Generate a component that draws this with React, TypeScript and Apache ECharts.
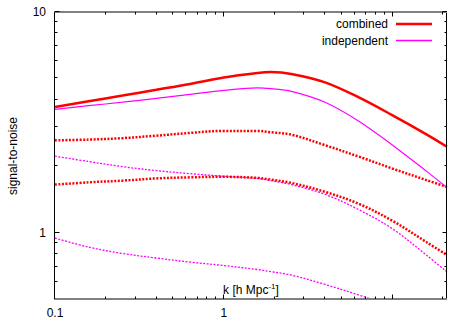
import React, { useEffect, useRef } from 'react';
import * as echarts from 'echarts';

const kValues = [0.1, 0.158, 0.251, 0.398, 0.631, 1, 1.585, 1.9, 2.512, 3.981, 6.31, 10, 15.85, 21];
const combinedSolid = [3.71, 3.94, 4.18, 4.44, 4.72, 5.05, 5.29, 5.34, 5.24, 4.8, 4.1, 3.4, 2.79, 2.45];
const independentSolid = [3.62, 3.76, 3.9, 4.06, 4.23, 4.41, 4.53, 4.49, 4.37, 3.9, 3.2, 2.49, 1.9, 1.6];
const combinedDottedUpper = [2.62, 2.64, 2.68, 2.75, 2.83, 2.89, 2.89, 2.85, 2.78, 2.49, 2.21, 1.95, 1.73, 1.61];
const combinedDottedLower = [1.65, 1.69, 1.72, 1.76, 1.78, 1.79, 1.77, 1.74, 1.68, 1.53, 1.35, 1.13, 0.906, 0.791];
const independentDottedUpper = [2.22, 2.1, 1.99, 1.91, 1.85, 1.8, 1.76, 1.72, 1.65, 1.49, 1.27, 1.04, 0.791, 0.663];
const independentDottedLower = [0.944, 0.86, 0.804, 0.767, 0.735, 0.709, 0.68, 0.665, 0.642, 0.582, 0.521, 0.46, 0.398, 0.362];

const xLabelValues = [0.1, 1, 10];
const yLabelValues = [1, 10];
const xMajorTicks = [0.1, 1, 10];
const xMinorTicks = [0.2, 0.3, 0.4, 0.5, 0.6, 0.7, 0.8, 0.9, 2, 3, 4, 5, 6, 7, 8, 9, 20];
const yMajorTicks = [1, 10];
const yMinorTicks = [0.6, 0.7, 0.8, 0.9, 2, 3, 4, 5, 6, 7, 8, 9];

const X_MIN = 0.1;
const X_MAX = 21;
const Y_MIN = 0.5;
const Y_MAX = 10;

const FONT = '"Liberation Sans", Arial, Helvetica, sans-serif';

function fmt(v: number): string {
  return String(Number(v.toPrecision(3)));
}

export default function App() {
  const ref = useRef<HTMLDivElement>(null);
  useEffect(() => {
    const chart = echarts.init(ref.current!, null, { renderer: 'svg' });
    const mk = (name: string, data: number[], color: string, width: number, type: any, z: number) => ({
      name,
      type: 'line',
      data: kValues.map((k, i) => [k, data[i]]),
      showSymbol: false,
      symbol: 'none',
      smooth: 0.35,
      clip: true,
      z,
      lineStyle: { color, width, type, cap: 'butt' },
      itemStyle: { color },
    });
    chart.setOption({
      animation: false,
      backgroundColor: '#ffffff',
      grid: { left: 55, right: 20, top: 12, bottom: 28, containLabel: false },
      xAxis: {
        type: 'log',
        logBase: 10,
        min: X_MIN,
        max: X_MAX,
        axisLine: { show: false },
        axisTick: { show: false },
        splitLine: { show: false },
        axisLabel: {
          customValues: xLabelValues,
          formatter: (v: number) => fmt(v),
          color: '#000',
          fontSize: 12,
          fontFamily: FONT,
          margin: 8,
          showMinLabel: true,
          showMaxLabel: false,
        },
      },
      yAxis: {
        type: 'log',
        logBase: 10,
        min: Y_MIN,
        max: Y_MAX,
        axisLine: { show: false },
        axisTick: { show: false },
        splitLine: { show: false },
        axisLabel: {
          customValues: yLabelValues,
          formatter: (v: number) => fmt(v),
          color: '#000',
          fontSize: 12,
          fontFamily: FONT,
          margin: 9,
        },
      },
      series: [
        mk('combined-a', combinedDottedUpper, '#ff0000', 2.5, [2, 1.5], 3),
        mk('combined-b', combinedDottedLower, '#ff0000', 2.5, [2, 1.5], 3),
        mk('independent-a', independentDottedUpper, '#ff00ff', 1.3, [2, 1.5], 2),
        mk('independent-b', independentDottedLower, '#ff00ff', 1.3, [2, 1.5], 2),
        mk('independent', independentSolid, '#ff00ff', 1.2, 'solid', 4),
        mk('combined', combinedSolid, '#ff0000', 2.5, 'solid', 5),
      ],
    });

    const xp = (v: number) => chart.convertToPixel({ xAxisIndex: 0 } as any, v) as number;
    const yp = (v: number) => chart.convertToPixel({ yAxisIndex: 0 } as any, v) as number;
    const left = xp(X_MIN);
    const right = xp(X_MAX);
    const top = yp(Y_MAX);
    const bottom = yp(Y_MIN);

    const g: any[] = [];
    const ln = (x1: number, y1: number, x2: number, y2: number, stroke: string, w: number) => ({
      type: 'line',
      silent: true,
      z: 10,
      shape: { x1, y1, x2, y2 },
      style: { stroke, lineWidth: w },
    });
    // frame
    g.push(ln(left - 0.5, top, left - 0.5, bottom, '#000', 1));
    g.push(ln(right - 0.5, top, right - 0.5, bottom, '#000', 1));
    g.push(ln(left - 1, top, right, top, '#808080', 2));
    g.push(ln(left - 1, bottom, right, bottom, '#808080', 2));
    // ticks
    const addX = (vals: number[], len: number) => {
      vals.forEach((v) => {
        const x = Math.round(xp(v)) - 0.5;
        g.push(ln(x, bottom, x, bottom - len, '#000', 1));
        g.push(ln(x, top, x, top + len, '#000', 1));
      });
    };
    const addY = (vals: number[], len: number) => {
      vals.forEach((v) => {
        const y = Math.round(yp(v)) - 0.5;
        g.push(ln(left, y, left + len, y, '#000', 1));
        g.push(ln(right, y, right - len, y, '#000', 1));
      });
    };
    addX(xMajorTicks, 4.5);
    addX(xMinorTicks, 2.5);
    addY(yMajorTicks, 4.5);
    addY(yMinorTicks, 2.5);

    // legend
    g.push({
      type: 'text', x: 388, y: 24, silent: true, z: 11,
      style: { text: 'combined', textAlign: 'right', textVerticalAlign: 'middle', fontSize: 12, fontFamily: FONT, fill: '#000' },
    });
    g.push(ln(396, 24, 432, 24, '#ff0000', 2.5));
    g.push({
      type: 'text', x: 388, y: 41, silent: true, z: 11,
      style: { text: 'independent', textAlign: 'right', textVerticalAlign: 'middle', fontSize: 12, fontFamily: FONT, fill: '#000' },
    });
    g.push(ln(396, 40.5, 432, 40.5, '#ff00ff', 1.3));

    // axis titles
    g.push({
      type: 'text', x: 251, y: 290, silent: true, z: 11,
      style: {
        text: '{a|k [h Mpc}{s|-1}{a|]}',
        textAlign: 'center',
        textVerticalAlign: 'middle',
        fill: '#000',
        rich: {
          a: { fontSize: 12, fontFamily: FONT, fill: '#000', lineHeight: 14 },
          s: { fontSize: 8, fontFamily: FONT, fill: '#000', lineHeight: 14, padding: [0, 0, 7, 0] },
        },
      },
    });
    g.push({
      type: 'text', x: 13, y: 156, rotation: Math.PI / 2, silent: true, z: 11,
      style: { text: 'signal-to-noise', textAlign: 'center', textVerticalAlign: 'middle', fontSize: 12, fontFamily: FONT, fill: '#000' },
    });

    chart.setOption({ graphic: g });
    return () => chart.dispose();
  }, []);
  return <div ref={ref} style={{ position: 'fixed', left: 0, top: 0, width: 467, height: 327 }} />;
}
